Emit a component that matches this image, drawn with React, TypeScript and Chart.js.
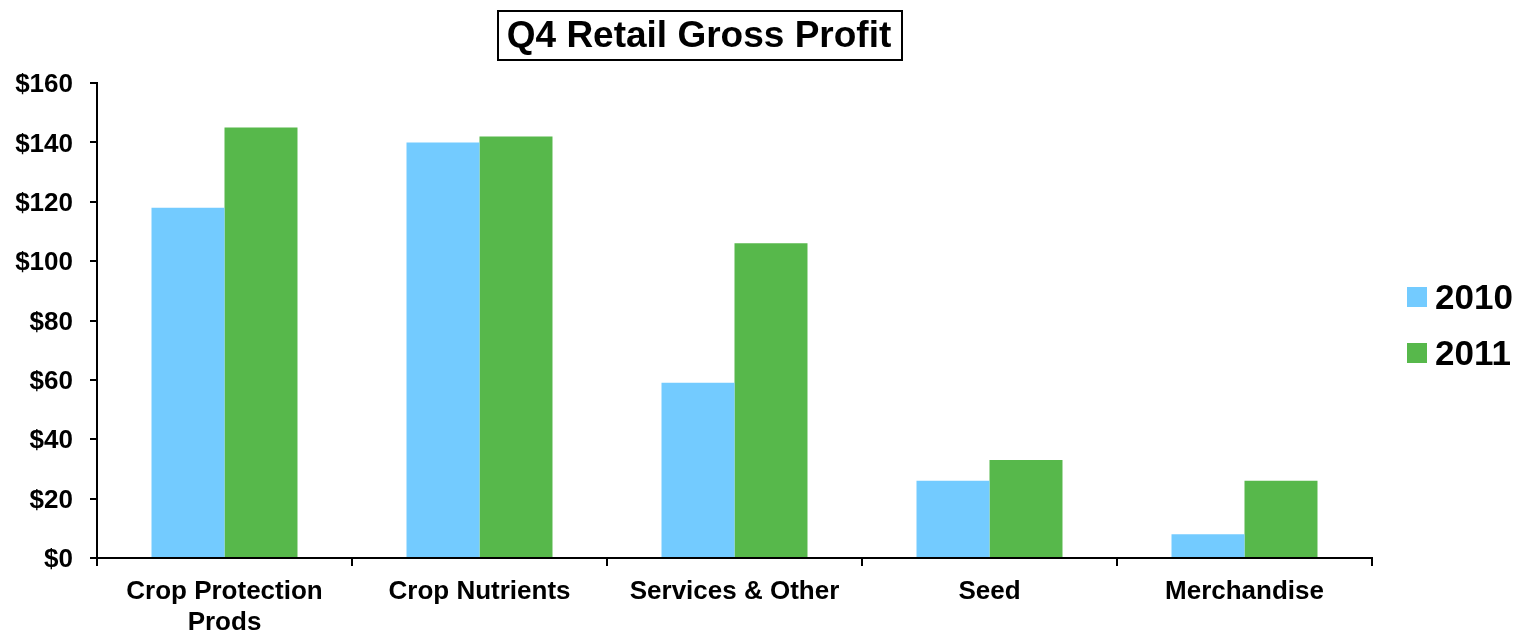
import React, { useEffect, useRef } from "react";
import { Chart, registerables } from "chart.js";

Chart.register(...registerables);

const categories: (string | string[])[] = [
  ["Crop Protection", "Prods"],
  "Crop Nutrients",
  "Services & Other",
  "Seed",
  "Merchandise",
];
const series2010 = [118, 140, 59, 26, 8];
const series2011 = [145, 142, 106, 33, 26];
const seriesLabels = ["2010", "2011"];
const seriesColors = ["#73CBFF", "#57B84B"];
const titleText = "Q4 Retail Gross Profit";
const yMin = 0;
const yMax = 160;
const yStep = 20;

const FONT = "Arial, 'Liberation Sans', Helvetica, sans-serif";

const boxedTitle = {
  id: "boxedTitle",
  afterDraw(chart: any) {
    const ctx = chart.ctx;
    ctx.save();
    ctx.font = `bold 37px ${FONT}`;
    ctx.fillStyle = "#000";
    ctx.textAlign = "center";
    ctx.textBaseline = "middle";
    ctx.fillText(titleText, 699, 37);
    ctx.strokeStyle = "#000";
    ctx.lineWidth = 2;
    ctx.strokeRect(498, 11, 404, 49);
    ctx.restore();
  },
};

const sideLegend = {
  id: "sideLegend",
  afterDraw(chart: any) {
    const ctx = chart.ctx;
    ctx.save();
    ctx.font = `bold 35px ${FONT}`;
    ctx.textAlign = "left";
    ctx.textBaseline = "middle";
    chart.data.datasets.forEach((ds: any, i: number) => {
      const cy = 297 + i * 56;
      ctx.fillStyle = ds.backgroundColor;
      ctx.fillRect(1407, cy - 10, 20, 20);
      ctx.fillStyle = "#000";
      ctx.fillText(ds.label, 1435, cy + 2);
    });
    ctx.restore();
  },
};

export default function App() {
  const ref = useRef<HTMLCanvasElement | null>(null);
  useEffect(() => {
    if (!ref.current) return;
    const chart = new Chart(ref.current, {
      type: "bar",
      data: {
        labels: categories,
        datasets: [
          { label: seriesLabels[0], data: series2010, backgroundColor: seriesColors[0], borderWidth: 0 },
          { label: seriesLabels[1], data: series2011, backgroundColor: seriesColors[1], borderWidth: 0 },
        ],
      },
      options: {
        animation: false,
        responsive: false,
        maintainAspectRatio: false,
        layout: { padding: { top: 83, right: 154, bottom: 0, left: 0 } },
        datasets: { bar: { barPercentage: 1, categoryPercentage: 0.5725 } },
        plugins: {
          legend: { display: false },
          title: { display: false },
          tooltip: { enabled: false },
        },
        scales: {
          x: {
            grid: { display: true, drawOnChartArea: false, drawTicks: true, tickLength: 8, color: "#000", lineWidth: 2 },
            border: { display: true, color: "#000", width: 2 },
            ticks: { color: "#000", font: { family: FONT, size: 26, weight: "bold", lineHeight: 1.19 }, padding: 10, maxRotation: 0, autoSkip: false },
            afterFit(scale: any) {
              scale.height = 74;
            },
          },
          y: {
            min: yMin,
            max: yMax,
            grid: { display: true, drawOnChartArea: false, drawTicks: true, tickLength: 7, color: "#000", lineWidth: 2 },
            border: { display: true, color: "#000", width: 2 },
            ticks: {
              stepSize: yStep,
              color: "#000",
              font: { family: FONT, size: 26, weight: "bold" },
              padding: 17,
              labelOffset: 2,
              callback: (v: any) => "$" + v,
            },
            afterFit(scale: any) {
              scale.width = 97;
            },
          },
        },
      },
      plugins: [boxedTitle, sideLegend],
    });
    return () => chart.destroy();
  }, []);
  return (
    <div style={{ position: "absolute", left: 0, top: 0, width: 1526, height: 632 }}>
      <canvas ref={ref} width={1526} height={632} style={{ display: "block" }} />
    </div>
  );
}
